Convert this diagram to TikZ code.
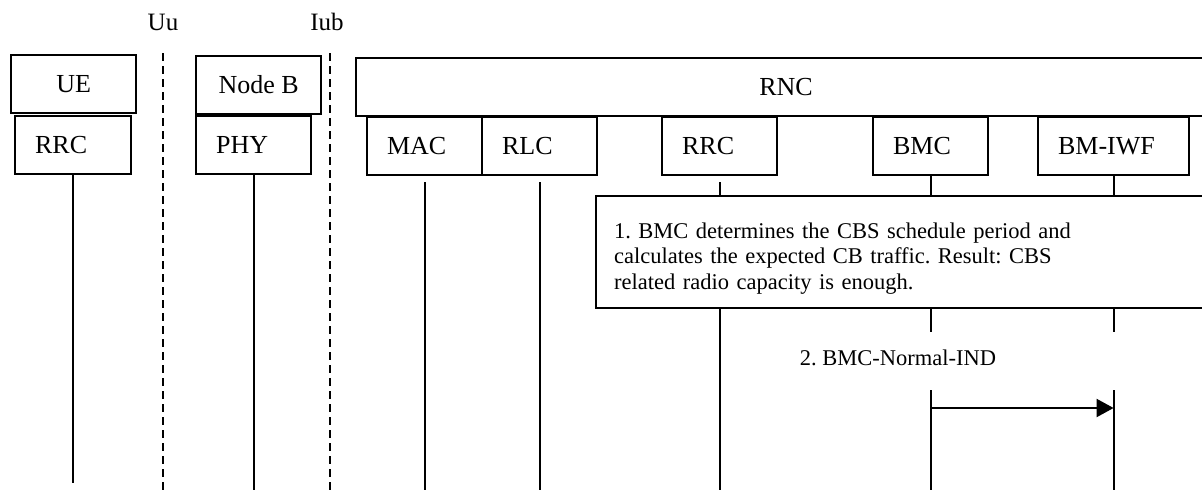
\documentclass[tikz,border=0pt]{standalone}
\usepackage{fontspec}
\setmainfont{Liberation Serif}
\usepackage{tikz}
\usetikzlibrary{positioning,calc,arrows.meta}
\frenchspacing

\begin{document}
\begin{tikzpicture}[x=1pt,y=-1pt,
  font=\fontsize{26}{30}\selectfont,
  ent/.style={draw,line width=2.2pt,minimum height=58pt,inner sep=0pt,anchor=north west},
  layer/.style={draw,line width=2.2pt,minimum height=58pt,inner xsep=20pt,inner ysep=0pt,
    align=left,anchor=north west},
  life/.style={line width=2pt},
  iface/.style={line width=2pt,dash pattern=on 8pt off 5pt},
  arr/.style={line width=2pt,-{Triangle[length=17pt,width=18pt]}}]
\clip (0,0) rectangle (1202,490);
%\draw[help lines,step=50] (0,0) grid (1202,490);
\coordinate (bot) at (0,490);

% entities
\node[ent,minimum width=125pt] (ue) at (10,54) {UE};
\node[layer,text width=76pt] (uerrc) at (14,115) {RRC};

\node[ent,minimum width=125pt] (nodeb) at (195,55) {Node B};
\node[layer,text width=75pt] (phy) at (195,115) {PHY};

\node[ent,minimum width=860pt] (rnc) at (355,57) {RNC};
\node[layer,text width=75pt] (mac) at (366,116) {MAC};
\node[layer,text width=75pt] (rlc) at (481,116) {RLC};
\node[layer,text width=75pt] (rncrrc) at (661,116) {RRC};
\node[layer,text width=75pt] (bmc) at (872,116) {BMC};
\node[layer,text width=111pt] (bmiwf) at (1037,116) {BM-IWF};

% interfaces
\node[font=\fontsize{25}{30}\selectfont] (uu) at (163,22) {Uu};
\node[font=\fontsize{25}{30}\selectfont] (iub) at (327,22) {Iub};
\coordinate (uutop) at (163,53);
\coordinate (iubtop) at (330,53);
\draw[iface] (uutop) -- (uutop |- bot);
\draw[iface] (iubtop) -- (iubtop |- bot);

% step 1
\node[draw,line width=2.2pt,anchor=north west,minimum width=620pt,minimum height=112pt,
  text width=584pt,inner xsep=18pt,align=left,
  font=\fontsize{22.5}{25.5}\selectfont] (step1) at (595,195)
  {\rule{0pt}{28pt}1. BMC determines the CBS schedule period and\\
   calculates the expected CB traffic. Result: CBS\\
   related radio capacity is enough.};

% lifelines
\coordinate (uebot) at (0,483);
\draw[life] (uerrc.south) -- (uerrc.south |- uebot);
\draw[life] (phy.south) -- (phy.south |- bot);
\foreach \n in {mac,rlc}
  \draw[life,shorten <=6pt] (\n.south) -- (\n.south |- bot);
\draw[life,shorten <=6pt] (rncrrc.south) -- (rncrrc.south |- step1.north);
\draw[life] (rncrrc.south |- step1.south) -- (rncrrc.south |- bot);

% step 2
\node[font=\fontsize{22.5}{26}\selectfont] (msg2) at (898,358) {2. BMC-Normal-IND};
\coordinate (gaptop) at (0,332);
\coordinate (gapbot) at (0,390);
\coordinate (m2) at (0,408);
\foreach \n in {bmc,bmiwf} {
  \draw[life] (\n.south) -- (\n.south |- step1.north);
  \draw[life] (\n.south |- step1.south) -- (\n.south |- gaptop);
  \draw[life] (\n.south |- gapbot) -- (\n.south |- bot);
}
\draw[arr] (bmc.south |- m2) -- (bmiwf.south |- m2);
\end{tikzpicture}
\end{document}
